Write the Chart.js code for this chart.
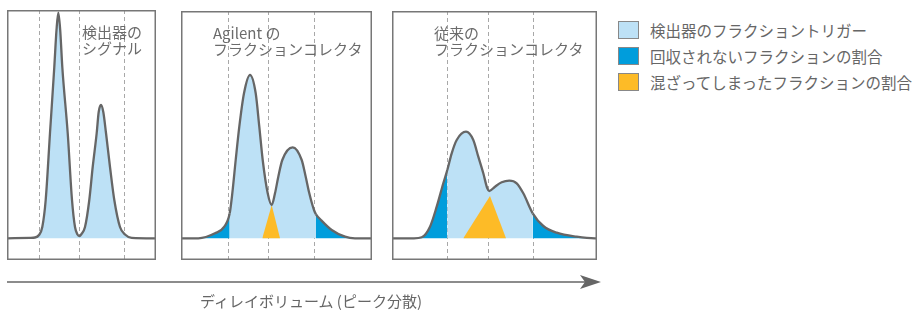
<!DOCTYPE html>
<html lang="ja">
<head>
<meta charset="utf-8">
<script src="https://cdn.jsdelivr.net/npm/chart.js@4.4.0/dist/chart.umd.min.js"></script>
<style>
  body { margin: 0; width: 913px; height: 311px; background: #fff; position: relative; overflow: hidden;
         font-family: "Noto Sans CJK JP", "Noto Sans", sans-serif; color: #666; }
  canvas { position: absolute; }
  .ttl { position: absolute; font-size: 15px; line-height: 16px; color: #6b6b6b; white-space: nowrap; }
  .legend { position: absolute; left: 618px; top: 21px; font-size: 15.5px; color: #666; }
  .legend div { height: 26px; display: flex; align-items: flex-start; white-space: nowrap; }
  .legend span.sw { width: 19px; height: 16px; border: 1px solid #888; margin-right: 11px; flex: none; }
  .legend span.tx { line-height: 18px; }
  .xlabel { position: absolute; left: 200px; top: 290px; font-size: 15px; color: #666; white-space: nowrap; }
  svg { position: absolute; left: 0; top: 0; }
</style>
</head>
<body>
<canvas id="p1" width="149" height="250" style="left:7px;top:10px"></canvas>
<canvas id="p2" width="191" height="249" style="left:181px;top:11px"></canvas>
<canvas id="p3" width="205" height="249" style="left:392px;top:11px"></canvas>

<div class="ttl" style="left:82px;top:24px">検出器の<br>シグナル</div>
<div class="ttl" style="left:213px;top:25px">Agilent の<br>フラクションコレクタ</div>
<div class="ttl" style="left:434px;top:25px">従来の<br>フラクションコレクタ</div>

<div class="legend" id="legend"></div>

<svg width="913" height="311">
  <line x1="7" y1="282" x2="586" y2="282" stroke="#666" stroke-width="1.6"/>
  <polygon points="580,275 601,282 580,289 585,282" fill="#666"/>
</svg>
<div class="xlabel">ディレイボリューム (ピーク分散)</div>

<script>
// series: delay volume (x) and detector signal (y)
const detectorVol = [0, 23, 28, 32, 35.3, 38.7, 43, 47.3, 49.5, 51.3, 53.2, 55.3, 60.7, 65, 68, 70.5, 72.3, 74.5, 78, 82.3,
                     85.7, 89.7, 91.7, 94, 96.3, 99, 103, 107.3, 113, 118, 124.7, 149];
const detectorSig = [0, 0.5, 0.8, 3.3, 11.3, 38.3, 105.3, 171.3, 208.3, 225.6, 208.3, 171.3, 105.3, 38.3, 11.3, 3.8, 2.3, 4.3, 11.3, 38.3,
                     71.3, 105.3, 126.3, 133.3, 126.3, 105.3, 71.3, 38.3, 11.3, 3.8, 0.5, 0];

const agilentVol = [0, 17.3, 34, 43.3, 48.7, 51.3, 54.7, 58.3, 63, 69, 74.7, 78.3, 81.7, 86.7, 90.7, 94, 97.3, 101.3,
                    111.7, 120.7, 124.7, 128.3, 133, 135, 140, 150.7, 164, 174, 191];
const agilentSig = [0, 0, 5, 11.6, 25, 45, 78.3, 111.6, 145, 163.3, 145, 111.6, 78.3, 45, 33.3, 45, 61.6, 78.3,
                    91, 78.3, 61.6, 45, 28.3, 24, 18.3, 8.3, 1.6, 0, 0];
const agilentCut = [48.7, 135];
const agilentMixVol = [81.3, 90.7, 99];
const agilentMixSig = [0, 33.3, 0];

const conventionalVol = [0, 22, 29.7, 38, 44.7, 51.3, 55.3, 59.7, 64.7, 74, 81.3, 86.3, 91.3, 95.3, 97.3, 103, 109.7,
                         117.3, 124.7, 131.3, 140.7, 151.3, 164.7, 184.7, 203, 205];
const conventionalSig = [0, 0, 1, 11.6, 31.6, 55, 68.3, 85, 98.3, 106.6, 98.3, 81.6, 65, 50, 47.3, 51.6, 56,
                         57.6, 55, 45, 25, 12.3, 5.6, 1.6, 0, 0];
const conventionalCut = [55.3, 140.7];
const conventionalMixVol = [71.3, 98, 114];
const conventionalMixSig = [0, 42.3, 0];

// fraction trigger marks (dashed lines)
const detectorTicks = [32, 72.3, 117];
const agilentTicks = [47.3, 87.3, 132.7];
const conventionalTicks = [55.3, 96, 140.7];

const legendLabels = ['検出器のフラクショントリガー', '回収されないフラクションの割合', '混ざってしまったフラクションの割合'];

const LIGHT = '#bde1f6';
const DARK = '#009ddc';
const ORANGE = '#fdbb27';
const LINE = '#666666';

const toPoints = (xs, ys) => xs.map((x, i) => ({ x: x, y: ys[i] }));

const panelDeco = {
  id: 'panelDeco',
  beforeDraw(chart) {
    const { ctx, chartArea: a, scales } = chart;
    const ticks = chart.options.plugins.panelDeco.ticks;
    ctx.save();
    ctx.strokeStyle = '#a8a8a8';
    ctx.lineWidth = 1;
    ctx.setLineDash([4, 3]);
    ticks.forEach(t => {
      const px = Math.round(scales.x.getPixelForValue(t)) + 0.5;
      ctx.beginPath();
      ctx.moveTo(px, a.top);
      ctx.lineTo(px, a.bottom);
      ctx.stroke();
    });
    ctx.restore();
  },
  afterDraw(chart) {
    const { ctx, chartArea: a } = chart;
    ctx.save();
    ctx.strokeStyle = '#777';
    ctx.lineWidth = 1.5;
    ctx.strokeRect(a.left + 0.75, a.top + 0.75, a.right - a.left - 1.5, a.bottom - a.top - 1.5);
    ctx.restore();
  }
};

function makePanel(id, vol, sig, cut, mixVol, mixSig, ticks, yMax) {
  const datasets = [];
  if (mixVol) {
    datasets.push({
      data: toPoints(mixVol, mixSig),
      borderWidth: 0,
      pointRadius: 0,
      tension: 0,
      fill: 'origin',
      backgroundColor: ORANGE
    });
  }
  datasets.push({
    data: toPoints(vol, sig),
    borderColor: LINE,
    borderWidth: 2.3,
    pointRadius: 0,
    cubicInterpolationMode: 'monotone',
    fill: 'origin',
    backgroundColor: LIGHT,
    segment: {
      backgroundColor: c => {
        if (!cut) return LIGHT;
        const x = c.p0.parsed.x;
        return (x < cut[0] || x >= cut[1]) ? DARK : LIGHT;
      }
    }
  });

  new Chart(document.getElementById(id), {
    type: 'line',
    data: { datasets: datasets },
    options: {
      responsive: false,
      animation: false,
      events: [],
      layout: { padding: 0 },
      scales: {
        x: { type: 'linear', display: false, min: 0, max: vol[vol.length - 1] },
        y: { type: 'linear', display: false, min: -21.7, max: yMax }
      },
      plugins: {
        legend: { display: false },
        tooltip: { enabled: false },
        filler: { drawTime: 'beforeDatasetsDraw' },
        panelDeco: { ticks: ticks }
      }
    },
    plugins: [panelDeco]
  });
}

makePanel('p1', detectorVol, detectorSig, null, null, null, detectorTicks, 228.3);
makePanel('p2', agilentVol, agilentSig, agilentCut, agilentMixVol, agilentMixSig, agilentTicks, 227.3);
makePanel('p3', conventionalVol, conventionalSig, conventionalCut, conventionalMixVol, conventionalMixSig, conventionalTicks, 227.3);

// legend
const swatches = [LIGHT, DARK, ORANGE];
const legend = document.getElementById('legend');
legendLabels.forEach((label, i) => {
  const row = document.createElement('div');
  row.innerHTML = '<span class="sw" style="background:' + swatches[i] + '"></span><span class="tx">' + label + '</span>';
  legend.appendChild(row);
});
</script>
</body>
</html>
